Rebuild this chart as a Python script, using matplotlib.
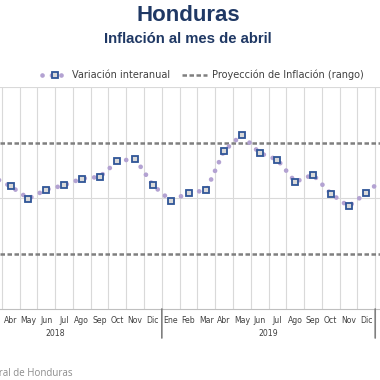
import matplotlib
matplotlib.use("Agg")
import matplotlib.pyplot as plt
import numpy as np

# monthly categories, Ene 2018 .. Ene 2020
meses = ['Ene', 'Feb', 'Mar', 'Abr', 'May', 'Jun', 'Jul', 'Ago', 'Sep', 'Oct', 'Nov', 'Dic']
anios = ['2018', '2019']
etiquetas = meses + meses + ['Ene']

# year-on-year inflation (%)
inflacion = [np.nan, np.nan, 4.38, 4.21, 3.99, 4.15, 4.23, 4.35, 4.38, 4.66, 4.71, 4.23,
             3.95, 4.09, 4.14, 4.85, 5.14, 4.81, 4.69, 4.29, 4.42, 4.08, 3.85, 4.09,
             4.36]

# projection band
meta_baja = 3.0
meta_alta = 5.0

fig = plt.figure(figsize=(3.8, 3.8), dpi=100)
ax = fig.add_axes([0, 71 / 380, 1, 222 / 380])

x = np.arange(len(etiquetas))

ax.axhline(meta_alta, color='#7F7F7F', lw=1.8, dashes=(1.8, 1.0), zorder=2)
ax.axhline(meta_baja, color='#7F7F7F', lw=1.8, dashes=(1.8, 1.0), zorder=2)

ax.plot(x, inflacion, color='#B3A2D2', lw=3.4, linestyle=(0, (0.01, 2.0)),
        dash_capstyle='round', marker='s', markersize=4.8,
        markerfacecolor='#D9D9D9', markeredgecolor='#2F5597', markeredgewidth=1.3,
        zorder=3, label='Variación interanual')

# proxy for the legend entry of the band
ax.plot([], [], color='#7F7F7F', lw=1.8, dashes=(1.8, 1.0), label='Proyección de Inflación (rango)')

# grid
for b in np.arange(-0.5, len(etiquetas), 1):
    ax.axvline(b, color='#D9D9D9', lw=0.8, zorder=1)
for v in [4, 6]:
    ax.axhline(v, color='#D9D9D9', lw=0.8, zorder=1)

for s in ['top', 'left', 'right']:
    ax.spines[s].set_visible(False)
ax.spines['bottom'].set_color('#BFBFBF')
ax.spines['bottom'].set_linewidth(0.8)

ax.set_yticks([])
ax.set_xticks(x)
ax.set_xticklabels(etiquetas, fontsize=5.6, color='#404040', family='DejaVu Sans')
ax.tick_params(axis='x', length=0, pad=5)

# the chart is a crop: only part of the months is visible
ax.set_xlim(2.398, 23.77)
ax.set_ylim(2, 6)

# year labels and separators under the axis
for k, a in enumerate(anios):
    centro = k * 12 + 5.5
    ax.annotate(a, xy=(centro, 0), xycoords=('data', 'axes fraction'),
                xytext=(0, -17.5), textcoords='offset points', ha='center', va='center',
                fontsize=5.6, color='#404040', family='DejaVu Sans')
for k in range(len(anios) + 1):
    ax.annotate('', xy=(k * 12 - 0.5, 0), xycoords=('data', 'axes fraction'),
                xytext=(k * 12 - 0.5, -29), textcoords=('data', 'offset pixels'),
                arrowprops=dict(arrowstyle='-', color='#7F7F7F', lw=1.2,
                                shrinkA=0, shrinkB=0))

leg = ax.legend(loc='lower center', bbox_to_anchor=(0.534, 1.0), ncol=2, frameon=False,
                fontsize=7, handlelength=2.6, columnspacing=1.2, handletextpad=0.5,
                borderaxespad=0.3)
for t in leg.get_texts():
    t.set_color('#404040')

fig.text(0.495, 0.958, 'Honduras', ha='center', va='center', fontsize=16,
         fontweight='bold', color='#1F3864', family='Liberation Sans')
fig.text(0.495, 0.898, 'Inflación al mes de abril', ha='center', va='center',
         fontsize=10.7, fontweight='bold', color='#1F3864', family='Liberation Sans')

fig.text(73 / 380, 1 - 373 / 380, 'Fuente: Banco Central de Honduras', ha='right',
         va='center', fontsize=7, color='#8C8C8C', family='Open Sans')

fig.savefig('out.png', dpi=100)
